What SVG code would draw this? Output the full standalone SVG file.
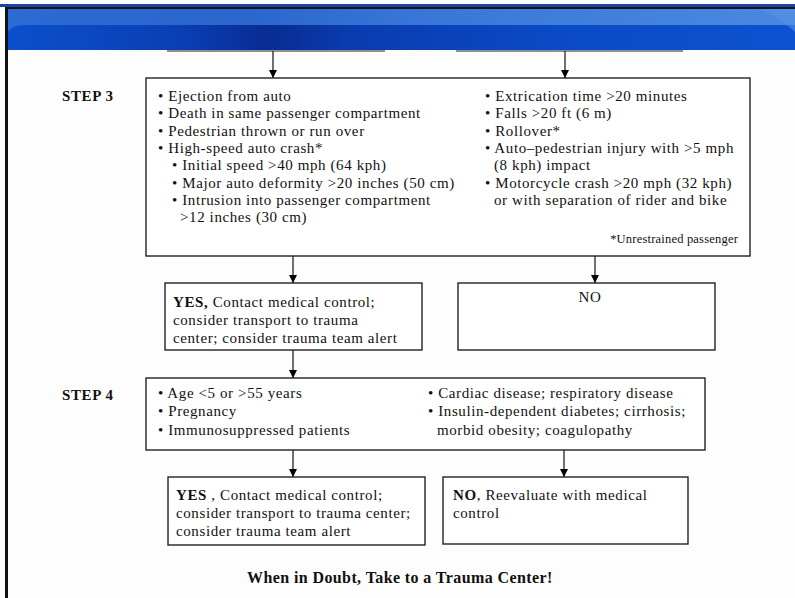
<svg xmlns="http://www.w3.org/2000/svg" width="795" height="598" viewBox="0 0 795 598">
  <defs>
    <linearGradient id="bandTop" x1="0" y1="0" x2="1" y2="0">
      <stop offset="0" stop-color="#2c6bd2"/>
      <stop offset="0.3" stop-color="#2a66cc"/>
      <stop offset="0.55" stop-color="#3a78d8"/>
      <stop offset="1" stop-color="#4a88e0"/>
    </linearGradient>
    <linearGradient id="bandLow" x1="0" y1="0" x2="1" y2="0">
      <stop offset="0" stop-color="#0b4fcc"/>
      <stop offset="0.22" stop-color="#0a3fb4"/>
      <stop offset="0.33" stop-color="#082c92"/>
      <stop offset="0.44" stop-color="#0a3cb0"/>
      <stop offset="0.7" stop-color="#0a4ac6"/>
      <stop offset="1" stop-color="#0c52d0"/>
    </linearGradient>
    <marker id="arrow" viewBox="0 0 10 10" refX="10" refY="5" markerWidth="8" markerHeight="8" markerUnits="userSpaceOnUse" orient="auto">
      <path d="M0,0 L10,5 L0,10 Z" fill="#000"/>
    </marker>
    <style>
      .box { fill: #fff; stroke: #222; stroke-width: 1.4; }
      .t { font-family: "Liberation Serif", "Times New Roman", serif; font-size: 15px; letter-spacing: 0.6px; fill: #111; }
      .b { font-weight: bold; }
      .step { font-family: "Liberation Serif", "Times New Roman", serif; font-size: 15px; letter-spacing: 0.6px; font-weight: bold; fill: #111; }
      .small { font-size: 12.5px; letter-spacing: 0.2px; }
      .motto { font-size: 16px; letter-spacing: 0.4px; font-weight: bold; }
      .edge { stroke: #111; stroke-width: 1.2; fill: none; marker-end: url(#arrow); }
      .stub { stroke: #222; stroke-width: 1.2; }
    </style>
  </defs>

  <!-- page background and frame -->
  <rect x="0" y="0" width="795" height="598" fill="#fdfdfd"/>
  <rect x="0" y="4" width="795" height="3" fill="#1a44a8"/>
  <rect x="5" y="7" width="790" height="2" fill="#111"/>
  <rect x="5" y="7" width="3" height="591" fill="#111"/>

  <!-- title band -->
  <g id="banner">
    <rect x="8" y="9" width="787" height="41" fill="url(#bandTop)"/>
    <path d="M8,50 L8,32 Q12,25 24,25 L795,25 L795,50 Z" fill="url(#bandLow)"/>
    <path d="M760,9 L795,9 L795,32 Q780,18 760,9 Z" fill="#5a96e6" opacity="0.5"/>
  </g>

  <!-- step labels -->
  <text class="step" x="62" y="101">STEP 3</text>
  <text class="step" x="62" y="400">STEP 4</text>

  <!-- connectors -->
  <g id="connectors">
    <line class="stub" x1="167" y1="51" x2="385" y2="51"/>
    <line class="stub" x1="456" y1="51" x2="683" y2="51"/>
    <line class="edge" x1="273" y1="51" x2="273" y2="78"/>
    <line class="edge" x1="565" y1="51" x2="565" y2="78"/>
    <line class="edge" x1="293" y1="256" x2="293" y2="283"/>
    <line class="edge" x1="595" y1="256" x2="595" y2="283"/>
    <line class="edge" x1="293" y1="350" x2="293" y2="378"/>
    <line class="edge" x1="293" y1="450" x2="293" y2="477"/>
    <line class="edge" x1="564" y1="450" x2="564" y2="477"/>
  </g>

  <g id="step3">
    <rect class="box" x="146" y="78" width="604" height="178"/>
    <text class="t" x="158" y="101">• Ejection from auto</text>
    <text class="t" x="158" y="118">• Death in same passenger compartment</text>
    <text class="t" x="158" y="136">• Pedestrian thrown or run over</text>
    <text class="t" x="158" y="153">• High-speed auto crash*</text>
    <text class="t" x="172" y="170">• Initial speed &gt;40 mph (64 kph)</text>
    <text class="t" x="172" y="188">• Major auto deformity &gt;20 inches (50 cm)</text>
    <text class="t" x="172" y="205">• Intrusion into passenger compartment</text>
    <text class="t" x="180" y="222">&gt;12 inches (30 cm)</text>
    <text class="t" x="485" y="101">• Extrication time &gt;20 minutes</text>
    <text class="t" x="485" y="118">• Falls &gt;20 ft (6 m)</text>
    <text class="t" x="485" y="136">• Rollover*</text>
    <text class="t" x="485" y="153">• Auto–pedestrian injury with &gt;5 mph</text>
    <text class="t" x="494" y="170">(8 kph) impact</text>
    <text class="t" x="485" y="188">• Motorcycle crash &gt;20 mph (32 kph)</text>
    <text class="t" x="494" y="205">or with separation of rider and bike</text>
    <text class="t small" x="738" y="243" text-anchor="end">*Unrestrained passenger</text>
  </g>

  <g id="yes3">
    <rect class="box" x="165" y="283" width="257" height="67"/>
    <text class="t" x="173" y="307"><tspan class="b">YES,</tspan> Contact medical control;</text>
    <text class="t" x="173" y="325">consider transport to trauma</text>
    <text class="t" x="173" y="343">center; consider trauma team alert</text>
  </g>

  <g id="no3">
    <rect class="box" x="458" y="283" width="257" height="67"/>
    <text class="t" x="590" y="302" text-anchor="middle">NO</text>
  </g>

  <g id="step4">
    <rect class="box" x="146" y="378" width="559" height="72"/>
    <text class="t" x="158" y="398">• Age &lt;5 or &gt;55 years</text>
    <text class="t" x="158" y="416">• Pregnancy</text>
    <text class="t" x="158" y="435">• Immunosuppressed patients</text>
    <text class="t" x="428" y="398">• Cardiac disease; respiratory disease</text>
    <text class="t" x="428" y="416">• Insulin-dependent diabetes; cirrhosis;</text>
    <text class="t" x="437" y="435">morbid obesity; coagulopathy</text>
  </g>

  <g id="yes4">
    <rect class="box" x="168" y="477" width="257" height="68"/>
    <text class="t" x="176" y="500"><tspan class="b">YES</tspan> , Contact medical control;</text>
    <text class="t" x="176" y="518">consider transport to trauma center;</text>
    <text class="t" x="176" y="536">consider trauma team alert</text>
  </g>

  <g id="no4">
    <rect class="box" x="443" y="477" width="245" height="67"/>
    <text class="t" x="453" y="500"><tspan class="b">NO</tspan>, Reevaluate with medical</text>
    <text class="t" x="453" y="518">control</text>
  </g>

  <text class="t motto" x="247" y="583">When in Doubt, Take to a Trauma Center!</text>
</svg>
